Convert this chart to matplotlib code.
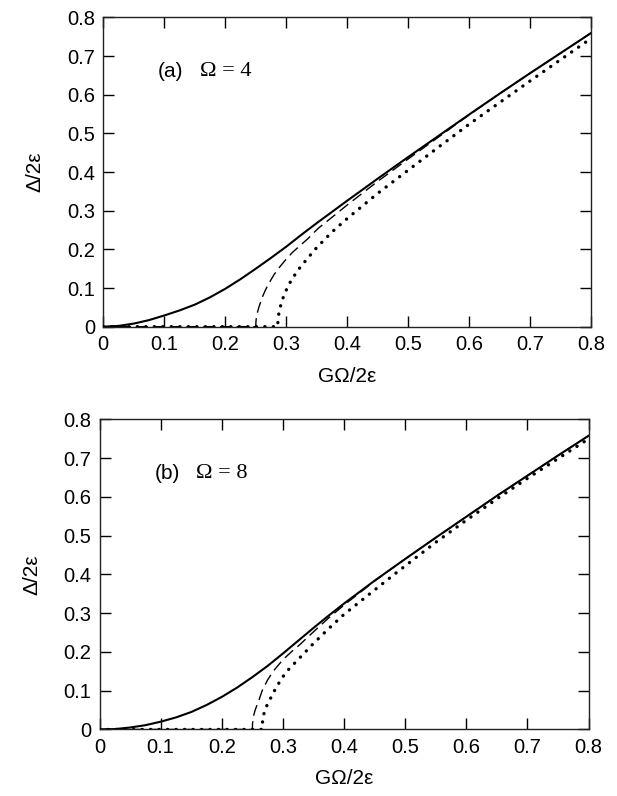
import matplotlib
matplotlib.use("Agg")
import matplotlib.pyplot as plt

plt.rcParams['font.family'] = ['Liberation Sans', 'DejaVu Sans']

# panel (a), Omega = 4
xa_solid = [0, 0.025, 0.05, 0.075, 0.1, 0.125, 0.15, 0.175, 0.2, 0.225, 0.25, 0.275, 0.3, 0.325,
            0.35, 0.375, 0.4, 0.45, 0.5, 0.55, 0.6, 0.65, 0.7, 0.75, 0.8]
ya_solid = [0, 0.002, 0.008, 0.017, 0.029, 0.042, 0.057, 0.076, 0.098, 0.123, 0.150, 0.178, 0.207, 0.238,
            0.268, 0.297, 0.326, 0.383, 0.439, 0.494, 0.549, 0.603, 0.656, 0.708, 0.760]
xa_dash = [0, 0.25, 0.2502, 0.251, 0.2525, 0.255, 0.26, 0.265, 0.27, 0.28, 0.29, 0.3, 0.31, 0.322,
           0.335, 0.352, 0.375, 0.4, 0.45, 0.5, 0.55, 0.6, 0.65, 0.7, 0.75, 0.8]
ya_dash = [0, 0, 0.012, 0.025, 0.036, 0.05, 0.074, 0.092, 0.108, 0.135, 0.156, 0.175, 0.192, 0.209,
           0.227, 0.254, 0.283, 0.315, 0.376, 0.434, 0.491, 0.548, 0.603, 0.656, 0.708, 0.760]
xa_dot = [0, 0.286, 0.2862, 0.287, 0.2885, 0.291, 0.295, 0.3, 0.305, 0.31, 0.322, 0.335, 0.35,
          0.375, 0.4, 0.45, 0.5, 0.55, 0.6, 0.65, 0.7, 0.75, 0.8]
ya_dot = [0, 0, 0.014, 0.027, 0.04, 0.056, 0.076, 0.095, 0.111, 0.125, 0.152, 0.177, 0.205,
          0.245, 0.28, 0.345, 0.405, 0.465, 0.524, 0.58, 0.636, 0.691, 0.746]

# panel (b), Omega = 8
xb_solid = [0, 0.025, 0.05, 0.075, 0.1, 0.125, 0.15, 0.175, 0.2, 0.225, 0.25, 0.275, 0.3, 0.325,
            0.35, 0.375, 0.4, 0.45, 0.5, 0.55, 0.6, 0.65, 0.7, 0.75, 0.8]
yb_solid = [0, 0.001, 0.005, 0.011, 0.02, 0.031, 0.045, 0.063, 0.084, 0.108, 0.135, 0.164, 0.196, 0.229,
            0.262, 0.294, 0.325, 0.384, 0.44, 0.495, 0.549, 0.603, 0.655, 0.707, 0.758]
xb_dash = [0, 0.25, 0.2502, 0.251, 0.2525, 0.255, 0.26, 0.266, 0.275, 0.285, 0.3, 0.315, 0.327,
           0.35, 0.375, 0.4, 0.45, 0.5, 0.55, 0.6, 0.65, 0.7, 0.75, 0.8]
yb_dash = [0, 0, 0.012, 0.025, 0.038, 0.052, 0.072, 0.1, 0.128, 0.152, 0.18, 0.202, 0.218,
           0.252, 0.288, 0.321, 0.383, 0.44, 0.495, 0.549, 0.603, 0.655, 0.707, 0.758]
xb_dot = [0, 0.266, 0.2662, 0.267, 0.2685, 0.271, 0.275, 0.279, 0.285, 0.29, 0.297, 0.31, 0.327,
          0.35, 0.376, 0.4, 0.45, 0.486, 0.5, 0.55, 0.6, 0.65, 0.7, 0.75, 0.8]
yb_dot = [0, 0, 0.012, 0.025, 0.038, 0.052, 0.066, 0.078, 0.097, 0.11, 0.13, 0.156, 0.184,
          0.222, 0.262, 0.297, 0.36, 0.405, 0.422, 0.483, 0.54, 0.595, 0.648, 0.699, 0.75]

ticks = [0, 0.1, 0.2, 0.3, 0.4, 0.5, 0.6, 0.7, 0.8]
tick_labels = ['0', '0.1', '0.2', '0.3', '0.4', '0.5', '0.6', '0.7', '0.8']

fig = plt.figure(figsize=(6.17, 7.96), dpi=100)
ax1 = fig.add_axes([0.1674, 0.5896, 0.791, 0.3886])
ax2 = fig.add_axes([0.1613, 0.0836, 0.7926, 0.3894])


def draw(ax, xs, ys, xd, yd, xo, yo, label, om):
    ax.plot(xo, yo, color='black', lw=2.4, linestyle=(0, (0.05, 2.5)),
            dash_capstyle='round', solid_capstyle='round', zorder=3)
    ax.plot(xd, yd, color='black', lw=1.0, linestyle=(0, (8, 4)), zorder=3)
    ax.plot(xs, ys, color='black', lw=1.5, zorder=4)
    ax.set_xlim(0, 0.8)
    ax.set_ylim(0, 0.8)
    ax.set_xticks(ticks)
    ax.set_xticklabels(tick_labels)
    ax.set_yticks(ticks)
    ax.set_yticklabels(tick_labels)
    ax.tick_params(direction='in', length=8, width=1, top=True, right=True,
                   labelsize=14.5, pad=6, colors='black')
    for s in ax.spines.values():
        s.set_linewidth(1.0)
        s.set_color('#222222')
    ax.set_xlabel('G\u03a9/2\u03b5', fontsize=15, labelpad=9)
    ax.set_ylabel('\u0394/2\u03b5', fontsize=15, labelpad=16)
    ax.text(0.09, 0.66, label, fontsize=15, va='center', ha='left')
    ax.text(0.158, 0.66, om, fontsize=16, va='center', ha='left',
            family=['Liberation Serif', 'DejaVu Serif'])


draw(ax1, xa_solid, ya_solid, xa_dash, ya_dash, xa_dot, ya_dot, '(a)', '\u03a9 = 4')
draw(ax2, xb_solid, yb_solid, xb_dash, yb_dash, xb_dot, yb_dot, '(b)', '\u03a9 = 8')

fig.savefig('out.png', dpi=100, facecolor='white')
